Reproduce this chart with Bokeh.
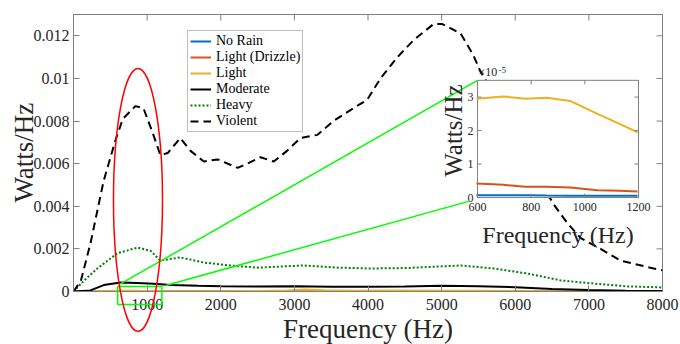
import numpy as np
from bokeh.plotting import figure
from bokeh.models import Range1d, FixedTicker, Legend, LegendItem
from bokeh.core.properties import value
from bokeh.embed import file_html
from bokeh.resources import INLINE

# ---------------- data ----------------
series_names = ["No Rain", "Light (Drizzle)", "Light", "Moderate", "Heavy", "Violent"]

small_f = [0, 200, 400, 600, 700, 780, 860, 950, 1050, 1130, 1200, 1500, 2000, 2500,
           2900, 3150, 3400, 3800, 4300, 5000, 5500, 6000, 7000, 8000]
norain_w = [0, 0.04e-5, 0.06e-5, 0.07e-5, 0.07e-5, 0.07e-5, 0.06e-5, 0.05e-5, 0.05e-5,
            0.05e-5, 0.05e-5, 0.04e-5, 0.04e-5, 0.04e-5, 0.04e-5, 0.05e-5, 0.04e-5,
            0.03e-5, 0.03e-5, 0.03e-5, 0.02e-5, 0.02e-5, 0.01e-5, 0.01e-5]
drizzle_w = [0, 0.2e-5, 0.35e-5, 0.42e-5, 0.38e-5, 0.32e-5, 0.32e-5, 0.30e-5, 0.22e-5,
             0.20e-5, 0.18e-5, 0.15e-5, 0.12e-5, 0.12e-5, 0.15e-5, 0.2e-5, 0.15e-5,
             0.1e-5, 0.1e-5, 0.1e-5, 0.08e-5, 0.06e-5, 0.04e-5, 0.02e-5]
light_w = [0, 1.0e-5, 2.3e-5, 2.95e-5, 3.02e-5, 2.95e-5, 2.98e-5, 2.88e-5, 2.5e-5,
           2.2e-5, 1.95e-5, 1.5e-5, 1.2e-5, 2.0e-5, 5e-5, 9e-5, 6e-5, 4e-5, 5e-5,
           4e-5, 3e-5, 2e-5, 1e-5, 0.5e-5]

moderate_f = [0, 230, 410, 640, 870, 1090, 1320, 1700, 2000, 2500, 3000, 3500, 4000,
              4500, 5000, 5500, 6000, 6500, 7000, 7500, 8000]
moderate_w = [0, 0.05e-3, 0.30e-3, 0.42e-3, 0.40e-3, 0.36e-3, 0.30e-3, 0.27e-3, 0.25e-3,
              0.23e-3, 0.25e-3, 0.22e-3, 0.22e-3, 0.24e-3, 0.27e-3, 0.25e-3, 0.20e-3,
              0.12e-3, 0.07e-3, 0.04e-3, 0.02e-3]

heavy_f = [0, 140, 330, 600, 870, 1050, 1180, 1450, 1770, 2130, 2500, 3120, 3590, 4040,
           4500, 5260, 5710, 6170, 6620, 7070, 7530, 8000]
heavy_w = [0, 0.5e-3, 1.1e-3, 1.8e-3, 2.06e-3, 1.9e-3, 1.45e-3, 1.6e-3, 1.36e-3, 1.22e-3,
           1.12e-3, 1.22e-3, 1.12e-3, 1.08e-3, 1.1e-3, 1.22e-3, 1.08e-3, 0.84e-3,
           0.52e-3, 0.37e-3, 0.24e-3, 0.19e-3]

violent_f = [0, 100, 230, 410, 570, 670, 840, 950, 1070, 1180, 1280, 1450, 1590, 1770,
             1960, 2230, 2360, 2540, 2720, 2900, 3080, 3310, 3530, 3800, 3990, 4170,
             4400, 4620, 4890, 5010, 5260, 5430, 5530, 5800, 6100, 6400, 6520, 6710,
             6890, 7160, 7430, 7880, 8000]
violent_w = [0, 0.5e-3, 2.25e-3, 5.2e-3, 7.1e-3, 8.1e-3, 8.7e-3, 8.6e-3, 7.5e-3, 6.4e-3,
             6.5e-3, 7.2e-3, 6.6e-3, 6.1e-3, 6.2e-3, 5.8e-3, 6.0e-3, 6.3e-3, 6.1e-3,
             6.6e-3, 7.2e-3, 7.35e-3, 8.0e-3, 8.6e-3, 9.0e-3, 10.0e-3, 11.0e-3, 11.8e-3,
             12.55e-3, 12.55e-3, 12.1e-3, 11.1e-3, 10.3e-3, 8.8e-3, 6.8e-3, 4.8e-3,
             4.1e-3, 3.2e-3, 2.5e-3, 2.0e-3, 1.45e-3, 1.08e-3, 1.0e-3]

x_ticks = [1000, 2000, 3000, 4000, 5000, 6000, 7000, 8000]
y_ticks = [0, 0.002, 0.004, 0.006, 0.008, 0.01, 0.012]
y_tick_labels = ["0", "0.002", "0.004", "0.006", "0.008", "0.01", "0.012"]

inset_x_ticks = [600, 800, 1000, 1200]
inset_x_labels = ["600", "800", "1000", "1200"]
inset_y_ticks = [0, 1e-5, 2e-5, 3e-5]
inset_y_labels = ["0", "1", "2", "3"]

# ---------------- styles ----------------
FONT = "Liberation Serif"
GRAY = "#808080"
TXT = "#262626"
BLUE, ORANGE, YELLOW = "#0072BD", "#D95319", "#EDB120"
GREEN = "#008000"
LIME = "#00FF00"

X_MAX, Y_MAX = 8000, 0.013
# inset placement (in main-plot data units)
INSET_X0, INSET_X1 = 5487, 7674
INSET_Y0, INSET_Y1 = 0.00441, 0.00991
INSET_YMAX = 3.5e-5

p = figure(width=680, height=344, x_range=Range1d(0, X_MAX), y_range=Range1d(0, Y_MAX),
           output_backend="svg", toolbar_location=None,
           min_border_left=73, min_border_right=18, min_border_top=14, min_border_bottom=53)
p.grid.visible = False
p.outline_line_color = GRAY


def style_axis(ax, ticks, standoff):
    ax.ticker = FixedTicker(ticks=ticks, minor_ticks=[])
    ax.axis_line_color = GRAY
    ax.major_tick_line_color = GRAY
    ax.major_tick_in = 6
    ax.major_tick_out = 0
    ax.minor_tick_line_color = None
    ax.major_label_text_font = FONT
    ax.major_label_text_color = TXT
    ax.major_label_text_font_size = "16px"
    ax.major_label_standoff = standoff


style_axis(p.below[0], x_ticks, 7)
style_axis(p.left[0], y_ticks, 4)
p.left[0].major_label_overrides = {t: s for t, s in zip(y_ticks, y_tick_labels)}

# box ticks on top and right (MATLAB style)
p.ray(x=x_ticks, y=[Y_MAX] * len(x_ticks), length=6, length_units="screen",
      angle=-np.pi / 2, line_color=GRAY)
p.ray(x=[X_MAX] * len(y_ticks), y=y_ticks, length=6, length_units="screen",
      angle=np.pi, line_color=GRAY)

# main curves
r1 = p.line(small_f, norain_w, line_color=BLUE, line_width=2)
r2 = p.line(small_f, drizzle_w, line_color=ORANGE, line_width=2)
r3 = p.line(small_f, light_w, line_color=YELLOW, line_width=2)
r4 = p.line(moderate_f, moderate_w, line_color="black", line_width=2)
r5 = p.line(heavy_f, heavy_w, line_color=GREEN, line_width=2, line_dash="2 2")
r6 = p.line(violent_f, violent_w, line_color="black", line_width=2, line_dash="8 5")

# zoom indication
p.quad(left=[600], right=[1200], bottom=[-0.00061], top=[0.000235], fill_color=None,
       line_color=LIME, line_width=1.5, level="overlay")
p.segment(x0=[625, 1250], y0=[0.00033, 0.00028], x1=[INSET_X0, 5365], y1=[INSET_Y1, 0.00423],
          line_color=LIME, line_width=1.5)
p.ellipse(x=[876], y=[0.0043], width=[666], height=[0.01235], fill_color=None,
          line_color="red", line_width=1.5, level="overlay")

# axis titles
p.text(x=[4000], y=[-0.00178], text=["Frequency (Hz)"], text_align="center",
       text_baseline="middle", text_font=value(FONT), text_font_size=value("27px"),
       text_color=TXT, level="overlay")
p.text(x=[-679], y=[0.00652], text=["Watts/Hz"], angle=np.pi / 2, text_align="center",
       text_baseline="middle", text_font=value(FONT), text_font_size=value("27px"),
       text_color=TXT, level="overlay")

# legend
legend = Legend(items=[LegendItem(label=n, renderers=[r]) for n, r in
                       zip(series_names, [r1, r2, r3, r4, r5, r6])],
                location=(114, 159), padding=2, spacing=0, margin=0,
                label_height=16, glyph_height=16, glyph_width=21, label_standoff=5,
                label_text_font=FONT, label_text_font_size="14px",
                label_text_color="black",
                border_line_color=GRAY, background_fill_color="white", background_fill_alpha=1)
p.add_layout(legend, "center")

# ---------------- inset ----------------
ins = p.subplot(x_source=Range1d(600, 1200), y_source=Range1d(0, INSET_YMAX),
                x_target=Range1d(INSET_X0, INSET_X1), y_target=Range1d(INSET_Y0, INSET_Y1))
ins.quad(left=[600], right=[1200], bottom=[0], top=[INSET_YMAX], fill_color="white",
         line_color=GRAY, line_width=1)
sf = np.array(small_f)
m = (sf >= 600) & (sf <= 1200)
for w, c in [(norain_w, BLUE), (drizzle_w, ORANGE), (light_w, YELLOW)]:
    ins.line(sf[m], np.array(w)[m], line_color=c, line_width=2)

n = len(inset_x_ticks)
ins.ray(x=inset_x_ticks, y=[0] * n, length=4, length_units="screen", angle=np.pi / 2, line_color=GRAY)
ins.ray(x=inset_x_ticks, y=[INSET_YMAX] * n, length=4, length_units="screen", angle=-np.pi / 2, line_color=GRAY)
k = len(inset_y_ticks)
ins.ray(x=[600] * k, y=inset_y_ticks, length=4, length_units="screen", angle=0, line_color=GRAY)
ins.ray(x=[1200] * k, y=inset_y_ticks, length=4, length_units="screen", angle=np.pi, line_color=GRAY)

ins.text(x=inset_x_ticks, y=[0] * n, text=inset_x_labels, text_align="center", text_baseline="top",
         y_offset=5, text_font=value(FONT), text_font_size=value("12px"), text_color=TXT)
ins.text(x=[600] * k, y=inset_y_ticks, text=inset_y_labels, text_align="right", text_baseline="middle",
         x_offset=-4, text_font=value(FONT), text_font_size=value("12px"), text_color=TXT)
ins.text(x=[600], y=[INSET_YMAX], text=["×10"], text_align="left", text_baseline="bottom",
         x_offset=1, y_offset=-1, text_font=value(FONT), text_font_size=value("12px"), text_color=TXT)
ins.text(x=[600], y=[INSET_YMAX], text=["-5"], text_align="left", text_baseline="bottom",
         x_offset=21, y_offset=-7, text_font=value(FONT), text_font_size=value("9px"), text_color=TXT)
ins.text(x=[900], y=[0], text=["Frequency (Hz)"], text_align="center", text_baseline="middle",
         y_offset=37, text_font=value(FONT), text_font_size=value("24px"), text_color=TXT)
ins.text(x=[512], y=[2e-5], text=["Watts/Hz"], angle=np.pi / 2, text_align="center",
         text_baseline="middle", text_font=value(FONT),
         text_font_size=value("25px"), text_color=TXT)

open("out.html", "w").write(file_html(p, INLINE))
